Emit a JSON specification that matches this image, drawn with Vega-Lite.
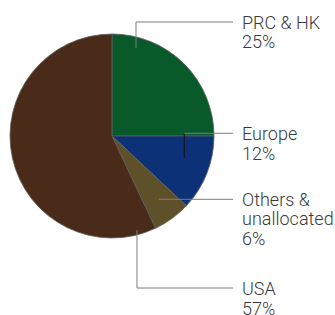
{
  "$schema": "https://vega.github.io/schema/vega-lite/v6.json",
  "width": 335,
  "height": 315,
  "padding": 0,
  "autosize": {"type": "none"},
  "background": "#ffffff",
  "config": {"view": {"stroke": null}},
  "datasets": {
    "slices": [
      {"region": "PRC & HK", "value": 25, "seq": 1},
      {"region": "Europe", "value": 12, "seq": 2},
      {"region": "Others & unallocated", "value": 6, "seq": 3},
      {"region": "USA", "value": 57, "seq": 4}
    ],
    "leaders": [
      {"key": "PRC", "part": "outer", "seq": 1, "x": 23.53, "y": 86.27},
      {"key": "PRC", "part": "outer", "seq": 2, "x": 23.53, "y": 111.76},
      {"key": "PRC", "part": "outer", "seq": 3, "x": 118.63, "y": 111.76},
      {"key": "EuropeIn", "part": "inner", "seq": 1, "x": 70.88, "y": -21.57},
      {"key": "EuropeIn", "part": "inner", "seq": 2, "x": 70.88, "y": 2.65},
      {"key": "Europe", "part": "outer", "seq": 1, "x": 70.88, "y": 2.65},
      {"key": "Europe", "part": "outer", "seq": 2, "x": 118.63, "y": 2.65},
      {"key": "Others", "part": "outer", "seq": 1, "x": 46.08, "y": -62.06},
      {"key": "Others", "part": "outer", "seq": 2, "x": 118.63, "y": -62.06},
      {"key": "USA", "part": "outer", "seq": 1, "x": 24.51, "y": -92.16},
      {"key": "USA", "part": "outer", "seq": 2, "x": 24.51, "y": -149.02},
      {"key": "USA", "part": "outer", "seq": 3, "x": 118.63, "y": -149.02}
    ],
    "labels": [
      {"label": "PRC & HK\n25%", "x": 127.45, "y": 104.9},
      {"label": "Europe\n12%", "x": 127.45, "y": -4.22},
      {"label": "Others &\nunallocated\n6%", "x": 127.45, "y": -68.33},
      {"label": "USA\n57%", "x": 127.45, "y": -156.37}
    ]
  },
  "layer": [
    {
      "data": {"name": "slices"},
      "mark": {"type": "arc", "radius": 102, "stroke": "#5e5e5e", "strokeWidth": 0.8},
      "encoding": {
        "x": {"datum": 0, "type": "quantitative", "scale": {"domain": [-109.8, 218.63], "nice": false, "zero": false}, "axis": null},
        "y": {"datum": 0, "type": "quantitative", "scale": {"domain": [-175.49, 133.33], "nice": false, "zero": false}, "axis": null},
        "theta": {"field": "value", "type": "quantitative"},
        "order": {"field": "seq", "type": "quantitative"},
        "color": {
          "field": "region",
          "type": "nominal",
          "scale": {
            "domain": ["PRC & HK", "Europe", "Others & unallocated", "USA"],
            "range": ["#085a2a", "#0c3177", "#5e5129", "#4a2a18"]
          },
          "legend": null
        }
      }
    },
    {
      "data": {"name": "leaders"},
      "mark": {"type": "line", "strokeWidth": 1},
      "encoding": {
        "x": {"field": "x", "type": "quantitative", "axis": null},
        "y": {"field": "y", "type": "quantitative", "axis": null},
        "detail": {"field": "key", "type": "nominal"},
        "order": {"field": "seq", "type": "quantitative"},
        "stroke": {
          "field": "part",
          "type": "nominal",
          "scale": {"domain": ["outer", "inner"], "range": ["#7d7d7d", "#111111"]},
          "legend": null
        }
      }
    },
    {
      "data": {"name": "labels"},
      "mark": {
        "type": "text",
        "align": "left",
        "baseline": "alphabetic",
        "lineBreak": "\n",
        "lineHeight": 19.5,
        "font": "Roboto",
        "fontSize": 18,
        "fontWeight": 300,
        "fill": "#3a3a3a"
      },
      "encoding": {
        "x": {"field": "x", "type": "quantitative", "axis": null},
        "y": {"field": "y", "type": "quantitative", "axis": null},
        "text": {"field": "label", "type": "nominal"}
      }
    }
  ]
}
